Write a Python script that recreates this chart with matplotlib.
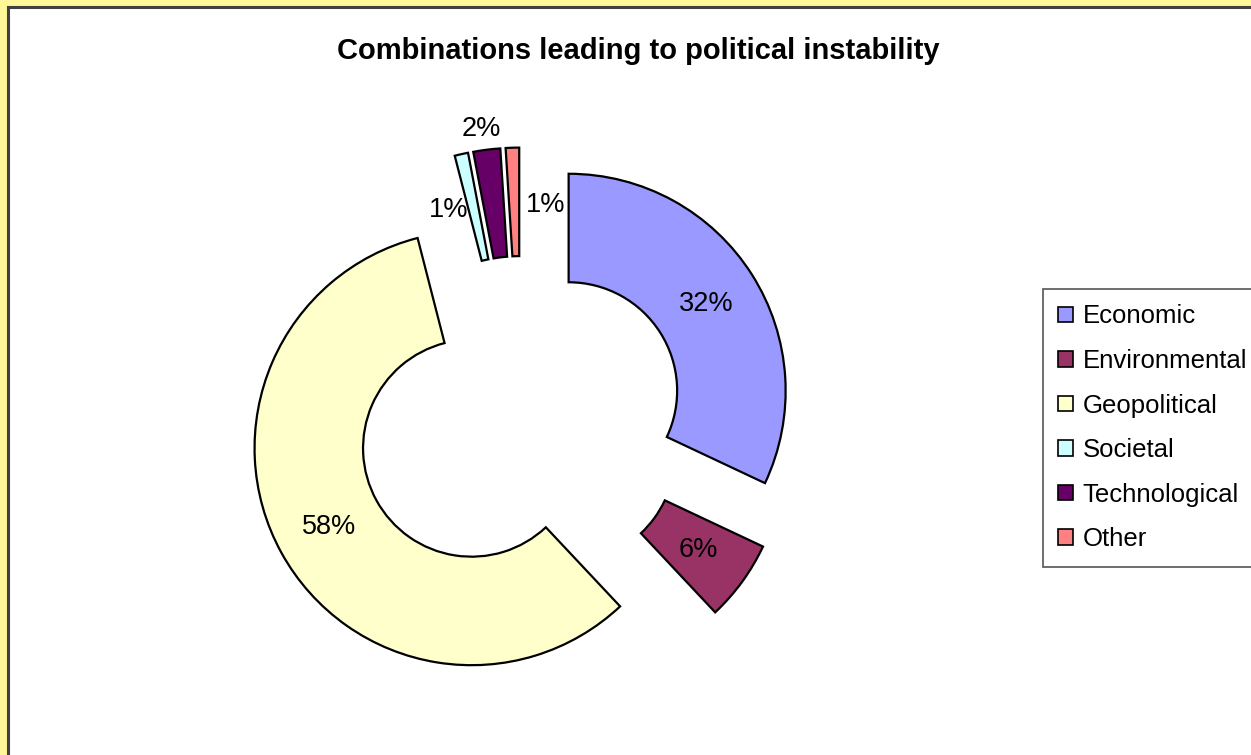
import numpy as np
import matplotlib.pyplot as plt
from matplotlib.patches import Rectangle, Patch

plt.rcParams['font.family'] = ['Liberation Sans', 'DejaVu Sans']

categories = ['Economic', 'Environmental', 'Geopolitical', 'Societal', 'Technological', 'Other']
shares = [32, 6, 58, 1, 2, 1]
colors = ['#9999FF', '#993366', '#FFFFCC', '#CCFFFF', '#660066', '#FF8080']

# label placement per slice: (angle shift from slice middle in degrees, distance from centre)
label_place = [(0, 1.01), (0, 1.01), (0, 1.01), (6.4, 1.03), (0.6, 1.36), (-8.4, 1.0)]

W, H = 1251, 755
fig = plt.figure(figsize=(W / 100, H / 100), dpi=100)
fig.patch.set_facecolor('#FFF799')

# white chart area with dark frame
fig.add_artist(Rectangle((8 / W, -0.1), 1.2, 1 - 7 / H + 0.1, transform=fig.transFigure,
                         facecolor='white', edgecolor='#404040', linewidth=2.2, zorder=0))

# axes over the whole figure: 1 unit = 217 px, donut centre at (521, 421) px
ax = fig.add_axes([0, 0, 1, 1])
ax.set_facecolor('none')
R = 217.0
cx, cy = 521.0, 421.0

wedges, _ = ax.pie(shares, colors=colors, startangle=90, counterclock=False, radius=1,
                   explode=[0.26] * len(shares),
                   wedgeprops=dict(width=0.5, edgecolor='black', linewidth=1.6))
ax.set_xlim(-cx / R, (W - cx) / R)
ax.set_ylim((cy - H) / R, cy / R)
ax.axis('off')

for w, v, (shift, dist) in zip(wedges, shares, label_place):
    mid = np.deg2rad((w.theta1 + w.theta2) / 2 + shift)
    ax.text(dist * np.cos(mid), dist * np.sin(mid), f'{v}%', ha='center', va='center',
            fontsize=19.5, color='black')

fig.text(638 / W, 1 - 51 / H, 'Combinations leading to political instability',
         ha='center', va='center', fontsize=21, fontweight='bold')

handles = [Patch(facecolor=c, edgecolor='black', linewidth=1.2) for c in colors]
leg = fig.legend(handles, categories, loc='upper left',
                 bbox_to_anchor=(1043 / W, 1 - 289 / H), borderaxespad=0,
                 fontsize=18.5, handlelength=0.55, handleheight=0.55, handletextpad=0.4,
                 labelspacing=0.8, borderpad=0.6, fancybox=False, framealpha=1)
leg.get_frame().set_edgecolor('#555555')
leg.get_frame().set_linewidth(1.2)

fig.savefig('out.png', dpi=100, facecolor=fig.get_facecolor())
